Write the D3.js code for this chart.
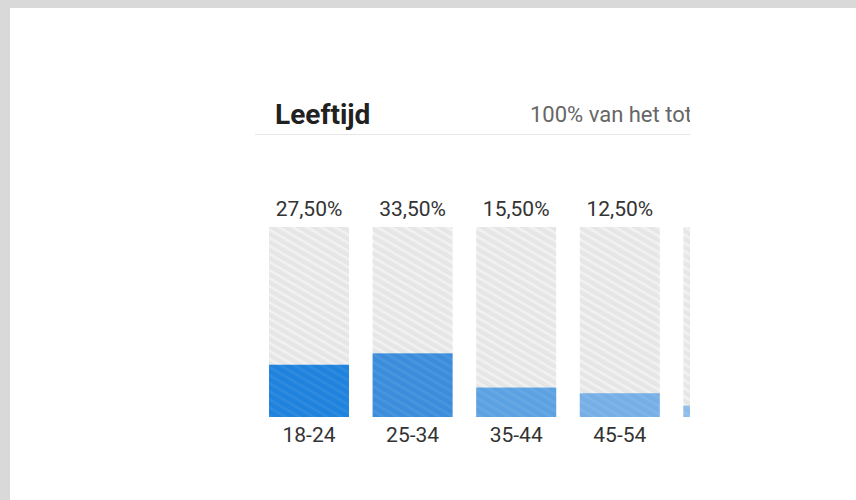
<!DOCTYPE html>
<html lang="nl">
<head>
<meta charset="UTF-8">
<title>Leeftijd</title>
<style>
  * { margin: 0; padding: 0; }
  html, body { width: 856px; height: 500px; background: #d9d9d9; overflow: hidden; }
  #svg { position: absolute; left: 10px; top: 8px; background: #fff; }
  text { font-family: Roboto, "Open Sans", sans-serif; }
</style>
</head>
<body>
<svg id="svg"></svg>
<script src="https://cdnjs.cloudflare.com/ajax/libs/d3/7.8.5/d3.min.js"></script>
<script>
  const title = 'Leeftijd'
  const subtitle = '100% van het totaal'
  const categories = ['18-24', '25-34', '35-44', '45-54', '55-64', '65+']
  const values = [27.5, 33.5, 15.5, 12.5, 6, 5]
  const barColors = ['#1f82dc', '#3b8ddb', '#5ca2e2', '#76afe6', '#8dbce9', '#a3c9ec']

  const fmt = v => d3.format('.2f')(v).replace('.', ',') + '%'

  // svg is offset by (10, 8) inside the page
  const off = { x: 10, y: 8 }
  const svg = d3.select('#svg')
    .attr('width', 856 - off.x)
    .attr('height', 500 - off.y)

  const defs = svg.append('defs')
  // card clip, in page coordinates (used inside the translated group)
  defs.append('clipPath').attr('id', 'card')
    .append('rect')
    .attr('x', 255).attr('y', 0)
    .attr('width', 690 - 255).attr('height', 500)

  const hatch = defs.append('pattern')
    .attr('id', 'hatch')
    .attr('patternUnits', 'userSpaceOnUse')
    .attr('width', 7).attr('height', 7)
    .attr('patternTransform', 'rotate(30)')
  hatch.append('rect').attr('width', 7).attr('height', 7).attr('fill', '#e6e6e6')
  hatch.append('rect').attr('y', 0).attr('width', 7).attr('height', 2.5).attr('fill', '#f2f2f2')

  const hatchLight = defs.append('pattern')
    .attr('id', 'hatch-light')
    .attr('patternUnits', 'userSpaceOnUse')
    .attr('width', 7).attr('height', 7)
    .attr('patternTransform', 'rotate(30)')
  hatchLight.append('rect').attr('width', 7).attr('height', 2.5).attr('fill', 'rgba(255,255,255,0.07)')

  const g = svg.append('g')
    .attr('transform', `translate(${-off.x},${-off.y})`)
    .append('g')
    .attr('clip-path', 'url(#card)')

  // header
  g.append('text')
    .attr('x', 275).attr('y', 124)
    .attr('font-size', 28).attr('font-weight', 700)
    .attr('fill', '#212121')
    .text(title)
  g.append('text')
    .attr('x', 530).attr('y', 122)
    .attr('font-size', 22)
    .attr('fill', '#666')
    .text(subtitle)
  g.append('line')
    .attr('x1', 255).attr('x2', 690)
    .attr('y1', 134.5).attr('y2', 134.5)
    .attr('stroke', '#e6e6e6')

  const x = d3.scaleBand()
    .domain(categories)
    .range([257.2, 878.8])
    .paddingInner(0.228)
    .paddingOuter(0.114)

  const y = d3.scaleLinear()
    .domain([0, 100])
    .range([417, 227])

  const bars = g.selectAll('.bar')
    .data(categories)
    .join('g')
    .attr('class', 'bar')

  bars.append('rect')
    .attr('x', d => x(d))
    .attr('y', y(100))
    .attr('width', x.bandwidth())
    .attr('height', y(0) - y(100))
    .attr('fill', 'url(#hatch)')

  bars.append('rect')
    .attr('x', d => x(d))
    .attr('y', (d, i) => y(values[i]))
    .attr('width', x.bandwidth())
    .attr('height', (d, i) => y(0) - y(values[i]))
    .attr('fill', (d, i) => barColors[i])

  bars.append('rect')
    .attr('x', d => x(d))
    .attr('y', (d, i) => y(values[i]))
    .attr('width', x.bandwidth())
    .attr('height', (d, i) => y(0) - y(values[i]))
    .attr('fill', 'url(#hatch-light)')

  bars.append('text')
    .attr('x', d => x(d) + x.bandwidth() / 2)
    .attr('y', 216)
    .attr('text-anchor', 'middle')
    .attr('font-size', 21)
    .attr('fill', '#333')
    .text((d, i) => fmt(values[i]))

  bars.append('text')
    .attr('x', d => x(d) + x.bandwidth() / 2)
    .attr('y', 442)
    .attr('text-anchor', 'middle')
    .attr('font-size', 21)
    .attr('fill', '#333')
    .text(d => d)
</script>
</body>
</html>
